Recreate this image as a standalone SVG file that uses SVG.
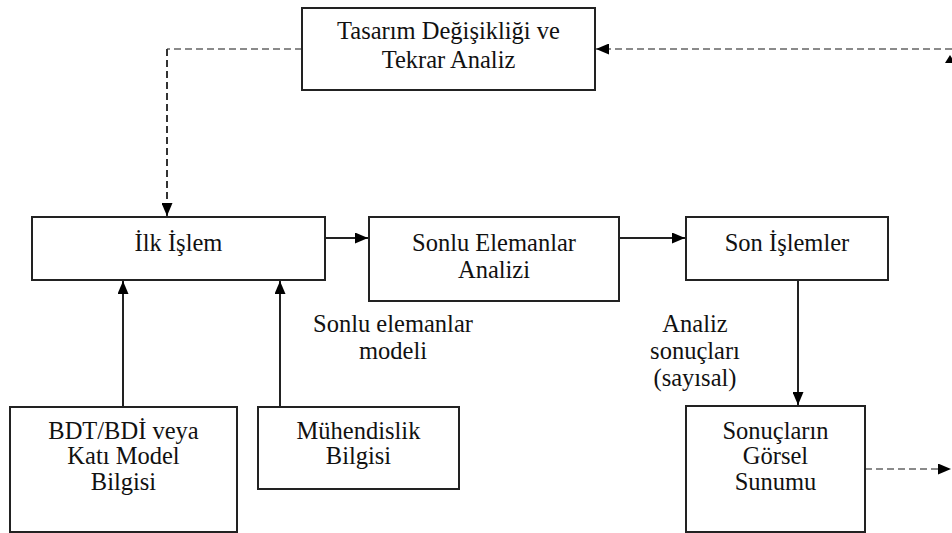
<svg xmlns="http://www.w3.org/2000/svg" width="952" height="533" viewBox="0 0 952 533">
  <style>
    .box { fill: #ffffff; stroke: #222222; stroke-width: 2; }
    text { font-family: 'Liberation Serif', 'Times New Roman', serif; font-size: 24.5px; fill: #111111; text-anchor: middle; }
    .solid { fill: none; stroke: #222222; stroke-width: 2; }
    .dash { fill: none; stroke: #8a8a8a; stroke-width: 2.2; stroke-dasharray: 7 4; }
    .dash-dark { fill: none; stroke: #333333; stroke-width: 2; stroke-dasharray: 7 4; }
  </style>
  <defs>
    <marker id="ah" viewBox="0 0 13 11" refX="13" refY="5.5" markerWidth="13" markerHeight="11" markerUnits="userSpaceOnUse" orient="auto">
      <path d="M0,0 L13,5.5 L0,11 Z" fill="#000000"/>
    </marker>
  </defs>
  <rect width="952" height="533" fill="#ffffff"/>

  <g id="connectors">
    <!-- feedback loop from design change back to pre-processing -->
    <line class="dash" x1="302" y1="49" x2="167" y2="49"/>
    <line class="dash-dark" x1="167" y1="49" x2="167" y2="216" marker-end="url(#ah)"/>
    <line class="dash" x1="952" y1="49" x2="596" y2="49" marker-end="url(#ah)"/>
    <path d="M945,63 L950,55 L955,63 Z" fill="#000000"/>
    <!-- main flow -->
    <line class="solid" x1="325" y1="238" x2="368" y2="238" marker-end="url(#ah)"/>
    <line class="solid" x1="619" y1="238" x2="685" y2="238" marker-end="url(#ah)"/>
    <line class="solid" x1="123" y1="407" x2="123" y2="281" marker-end="url(#ah)"/>
    <line class="solid" x1="280" y1="407" x2="280" y2="281" marker-end="url(#ah)"/>
    <line class="solid" x1="798" y1="280" x2="798" y2="405" marker-end="url(#ah)"/>
    <line class="dash" x1="865" y1="469" x2="951" y2="469" marker-end="url(#ah)"/>
  </g>

  <g id="tasarim">
    <rect class="box" x="302" y="8" width="293" height="82"/>
    <text x="448.5" y="39">Tasarım Değişikliği ve</text>
    <text x="448.5" y="68">Tekrar Analiz</text>
  </g>

  <g id="ilk-islem">
    <rect class="box" x="32" y="217" width="293" height="63"/>
    <text x="178.5" y="251">İlk İşlem</text>
  </g>

  <g id="sonlu-elemanlar">
    <rect class="box" x="369" y="217" width="250" height="84"/>
    <text x="494" y="251">Sonlu Elemanlar</text>
    <text x="494" y="278">Analizi</text>
  </g>

  <g id="son-islemler">
    <rect class="box" x="686" y="217" width="202" height="63"/>
    <text x="787" y="251">Son İşlemler</text>
  </g>

  <g id="bdt">
    <rect class="box" x="10" y="407" width="227" height="125"/>
    <text x="123.5" y="439">BDT/BDİ veya</text>
    <text x="123.5" y="464">Katı Model</text>
    <text x="123.5" y="490">Bilgisi</text>
  </g>

  <g id="muhendislik">
    <rect class="box" x="258" y="407" width="201" height="82"/>
    <text x="358.5" y="439">Mühendislik</text>
    <text x="358.5" y="464">Bilgisi</text>
  </g>

  <g id="gorsel-sunum">
    <rect class="box" x="686" y="406" width="179" height="126"/>
    <text x="775.5" y="439">Sonuçların</text>
    <text x="775.5" y="464">Görsel</text>
    <text x="775.5" y="490">Sunumu</text>
  </g>

  <g id="edge-labels">
    <text x="393" y="332">Sonlu elemanlar</text>
    <text x="393" y="359">modeli</text>
    <text x="695" y="332">Analiz</text>
    <text x="695" y="359">sonuçları</text>
    <text x="695" y="386">(sayısal)</text>
  </g>
</svg>
